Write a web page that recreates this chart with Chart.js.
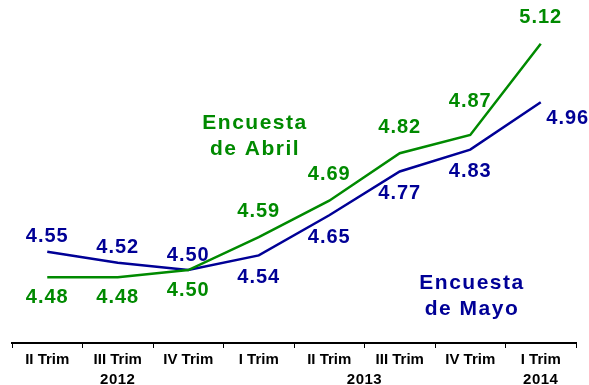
<!DOCTYPE html>
<html>
<head>
<meta charset="utf-8">
<script src="https://cdn.jsdelivr.net/npm/chart.js@4"></script>
<style>
    html, body { margin: 0; padding: 0; background: #fff; }
    #wrap { width: 589px; height: 385px; position: relative; }
</style>
</head>
<body>
<div id="wrap"><canvas id="expectChart"></canvas></div>
<script>
// --- Data ---
const quarters = ['II Trim', 'III Trim', 'IV Trim', 'I Trim', 'II Trim', 'III Trim', 'IV Trim', 'I Trim'];
const years = ['2012', '2013', '2014'];
const yearAt = [1, 4.5, 7]; // category index the year sits under
const abril = [4.48, 4.48, 4.50, 4.59, 4.69, 4.82, 4.87, 5.12];
const mayo = [4.55, 4.52, 4.50, 4.54, 4.65, 4.77, 4.83, 4.96];

const GREEN = '#008a00';
const NAVY = '#000096';
const FONT = '"Liberation Sans", Arial, sans-serif';

// value labels: green goes under the line until the curves cross, navy does the opposite
const valueLabels = {
    id: 'valueLabels',
    afterDatasetsDraw(chart) {
        const c = chart.ctx;
        c.save();
        c.font = 'bold 20px ' + FONT;
        c.letterSpacing = '1px';
        c.textAlign = 'center';
        c.textBaseline = 'middle';
        chart.data.datasets.forEach((ds, di) => {
            const meta = chart.getDatasetMeta(di);
            c.fillStyle = ds.borderColor;
            meta.data.forEach((pt, i) => {
                let dx = 0, dy;
                if (di === 0) {
                    dy = i < 3 ? 20 : -26;
                    if (i === 6) dy = -34;
                } else {
                    dy = i < 3 ? -15 : 22;
                    if (i === ds.data.length - 1) { dx = 27; dy = 16; }
                }
                c.fillText(ds.data[i].toFixed(2), pt.x + dx, pt.y + dy);
            });
        });
        c.restore();
    }
};

// series names and the year row under the axis
const extras = {
    id: 'extras',
    afterDraw(chart) {
        const c = chart.ctx;
        const x = chart.scales.x;
        c.save();
        c.textAlign = 'center';
        c.textBaseline = 'middle';

        c.font = 'bold 21px ' + FONT;
        c.letterSpacing = '1.5px';
        c.fillStyle = GREEN;
        c.fillText('Encuesta', 255, 123);
        c.fillText('de Abril', 255, 149);
        c.fillStyle = NAVY;
        c.fillText('Encuesta', 472, 283);
        c.fillText('de Mayo', 472, 309);

        c.font = 'bold 15px ' + FONT;
        c.letterSpacing = '0.5px';
        c.fillStyle = '#000';
        years.forEach((y, i) => {
            const lo = Math.floor(yearAt[i]), hi = Math.ceil(yearAt[i]);
            const px = (x.getPixelForValue(lo) + x.getPixelForValue(hi)) / 2;
            c.fillText(y, px, 380);
        });
        c.restore();
    }
};

const ctx = document.getElementById('expectChart').getContext('2d');
const expectChart = new Chart(ctx, {
    type: 'line',
    data: {
        labels: quarters,
        datasets: [
            { label: 'Encuesta de Abril', data: abril, borderColor: GREEN, borderWidth: 2.5, pointRadius: 0, tension: 0 },
            { label: 'Encuesta de Mayo', data: mayo, borderColor: NAVY, borderWidth: 2.5, pointRadius: 0, tension: 0 }
        ]
    },
    options: {
        responsive: true,
        maintainAspectRatio: false,
        animation: false,
        layout: { padding: { left: 12, right: 13, top: 0, bottom: 0 } },
        plugins: { legend: { display: false }, tooltip: { enabled: false } },
        scales: {
            x: {
                offset: true,
                grid: { offset: true, drawOnChartArea: false, drawTicks: true, tickLength: 5, color: '#000', lineWidth: 1 },
                border: { display: true, color: '#000', width: 2 },
                ticks: { color: '#000', font: { family: FONT, size: 15, weight: 'bold' }, padding: 3, maxRotation: 0, autoSkip: false },
                afterFit(scale) { scale.height = 42; }
            },
            y: { display: false, min: 4.3, max: 5.24 }
        }
    },
    plugins: [valueLabels, extras]
});
</script>
</body>
</html>
